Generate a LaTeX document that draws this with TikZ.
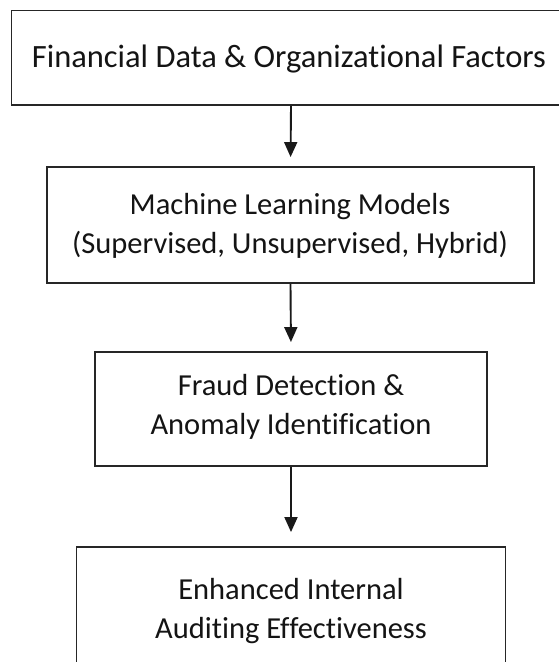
\documentclass[tikz,border=0pt]{standalone}
\usepackage{fontspec}
\setmainfont{Carlito}[Ligatures={NoCommon}]
\usetikzlibrary{arrows.meta}
\begin{document}
\begin{tikzpicture}[x=1pt,y=-1pt,
  box/.style={draw=black!85,line width=1.9pt,fill=white,inner sep=0pt},
  lbl/.style={align=center,font=\fontsize{30.5}{39}\selectfont,text=black!92,inner sep=0pt},
  flow/.style={draw=black!90,line width=1.9pt,-{Triangle[length=15pt,width=13pt]}}]
\useasboundingbox (0,0) rectangle (559,662);
\clip (0,0) rectangle (559,662);
\fill[white] (0,0) rectangle (559,662);
% boxes
\node[box,minimum width=559pt,minimum height=94.5pt] (b1) at (291,57.75) {};
\node[box,minimum width=487pt,minimum height=116pt] (b2) at (290.5,225) {};
\node[box,minimum width=392pt,minimum height=114pt] (b3) at (291,409) {};
\node[box,minimum width=429pt,minimum height=122pt] (b4) at (291,608) {};
% labels
\node[lbl,font=\fontsize{32.5}{40}\selectfont] (t1) at (289,59) {Financial Data \& Organizational Factors};
\node[lbl] (t2) at (290,226) {Machine Learning Models\\(Supervised, Unsupervised, Hybrid)};
\node[lbl] (t3) at (291,407) {Fraud Detection \&\\Anomaly Identification};
\node[lbl] (t4) at (291,611) {Enhanced Internal\\Auditing Effectiveness};
% connectors
\draw[flow,shorten >=9pt] (b1.south) -- (b2.north);
\draw[flow,shorten >=9pt] (b2.south) -- (b3.north);
\draw[flow,shorten >=14pt] (b3.south) -- (b4.north);
\end{tikzpicture}
\end{document}
